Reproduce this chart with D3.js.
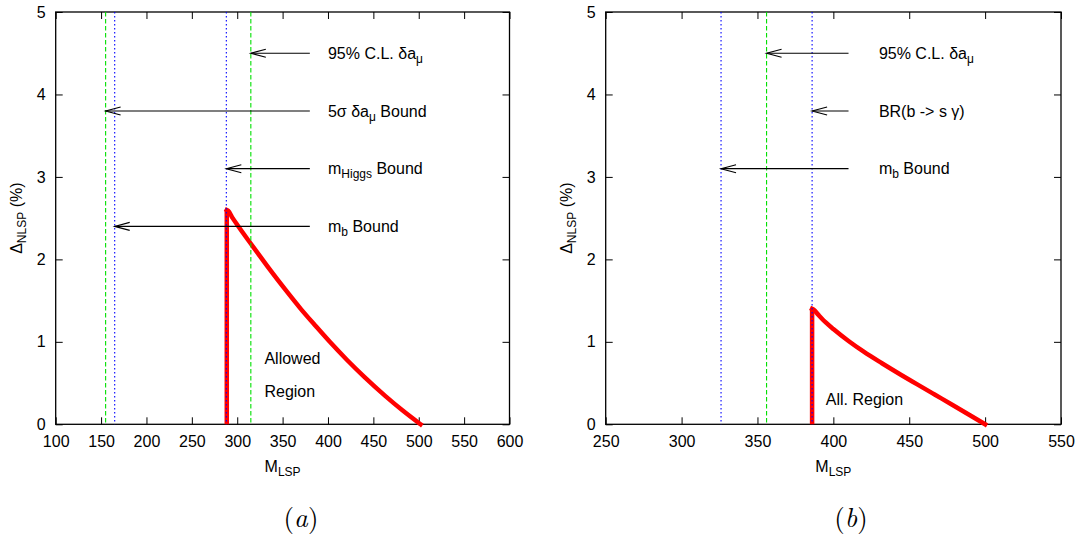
<!DOCTYPE html>
<html><head><meta charset="utf-8">
<script src="https://cdn.jsdelivr.net/npm/d3@7"></script>
<style>
html,body{margin:0;padding:0;background:#fff;}
svg{display:block;font-family:"Liberation Sans",Arial,Helvetica,sans-serif;}
</style></head>
<body>
<svg id="chart" width="1079" height="537"></svg>
<script>
// ---------- data ----------
const yTicks = [0, 1, 2, 3, 4, 5];
const xTicksA = [100, 150, 200, 250, 300, 350, 400, 450, 500, 550, 600];
const xTicksB = [250, 300, 350, 400, 450, 500, 550];

// panel (a) red curve (vertical edge at the first x, then the falling branch)
const curveAx = [288.5, 290, 295, 300, 310, 321, 335, 355, 370, 387, 402, 421, 440, 463, 482, 502];
const curveAy = [2.6, 2.59, 2.50, 2.42, 2.265, 2.10, 1.89, 1.605, 1.40, 1.185, 1.00, 0.78, 0.575, 0.345, 0.17, 0];
// panel (b) red curve
const curveBx = [386, 387, 390, 395, 400, 410, 420, 432, 445, 455, 467, 478, 490, 500];
const curveBy = [1.40, 1.39, 1.33, 1.235, 1.155, 1.01, 0.88, 0.74, 0.595, 0.487, 0.358, 0.24, 0.11, 0];

// vertical bounds
const greenA = [155, 315];
const blueA = [165, 288];
const greenB = [356];
const blueB = [326, 386];

// annotations (arrow y, arrow tip x, label parts [text, isSubscript])
const annAy = [4.5, 3.8, 3.1, 2.4];
const annAtip = [315, 155, 288, 165];
const annAtail = 380, annAtextX = 400;
const annAtext = [
  [["95% C.L. δa", 0], ["μ", 1]],
  [["5σ δa", 0], ["μ", 1], [" Bound", 0]],
  [["m", 0], ["Higgs", 1], [" Bound", 0]],
  [["m", 0], ["b", 1], [" Bound", 0]]
];
const annBy = [4.5, 3.8, 3.1];
const annBtip = [356, 386, 326];
const annBtail = 410, annBtextX = 430;
const annBtext = [
  [["95% C.L. δa", 0], ["μ", 1]],
  [["BR(b -> s γ)", 0]],
  [["m", 0], ["b", 1], [" Bound", 0]]
];
const regionA = [["Allowed", 330, 0.8], ["Region", 330, 0.4]];
const regionB = [["All. Region", 395, 0.3]];
const captions = ["a", "b"];

// ---------- drawing ----------
const svg = d3.select("#chart");
const plotTop = 12, plotBottom = 424.3;
const y = d3.scaleLinear().domain([0, 5]).range([plotBottom, plotTop]);

function addParts(textSel, parts, size, subSize, shift) {
  let down = false;
  parts.forEach(([t, sub]) => {
    const ts = textSel.append("tspan").text(t);
    if (sub && !down) { ts.attr("dy", shift).attr("font-size", subSize); down = true; }
    else if (sub) { ts.attr("font-size", subSize); }
    else if (!sub && down) { ts.attr("dy", -shift).attr("font-size", size); down = false; }
    else { ts.attr("font-size", size); }
  });
}

function panel(cfg) {
  const x = d3.scaleLinear().domain(cfg.domain).range(cfg.range);
  const g = svg.append("g");
  const fmt = d3.format("d");

  const gb = g.append("g").attr("transform", `translate(0,${plotBottom})`)
    .call(d3.axisBottom(x).tickValues(cfg.xticks).tickFormat(fmt).tickSizeInner(-7).tickSizeOuter(0).tickPadding(11.3));
  const gt = g.append("g").attr("transform", `translate(0,${plotTop})`)
    .call(d3.axisTop(x).tickValues(cfg.xticks).tickFormat("").tickSizeInner(-7).tickSizeOuter(0));
  const gl = g.append("g").attr("transform", `translate(${cfg.range[0]},0)`)
    .call(d3.axisLeft(y).tickValues(yTicks).tickFormat(fmt).tickSizeInner(-7).tickSizeOuter(0).tickPadding(10));
  const gr = g.append("g").attr("transform", `translate(${cfg.range[1]},0)`)
    .call(d3.axisRight(y).tickValues(yTicks).tickFormat("").tickSizeInner(-7).tickSizeOuter(0));
  [gb, gt, gl, gr].forEach(a => {
    a.select(".domain").remove();
    a.selectAll(".tick line").attr("stroke", "#000").attr("stroke-width", 1);
    a.selectAll("text").attr("font-size", 16).attr("fill", "#000")
      .attr("font-family", "'Liberation Sans', Arial, sans-serif");
  });
  g.append("rect").attr("x", cfg.range[0]).attr("y", plotTop)
    .attr("width", cfg.range[1] - cfg.range[0]).attr("height", plotBottom - plotTop)
    .attr("fill", "none").attr("stroke", "#000").attr("stroke-width", 1.3);

  // red region boundary: vertical edge + smooth falling branch
  const pts = cfg.cx.map((v, i) => [v, cfg.cy[i]]);
  g.append("path").datum([[cfg.cx[0], 0], pts[0]])
    .attr("d", d3.line().x(d => x(d[0])).y(d => y(d[1])))
    .attr("fill", "none").attr("stroke", "#ff0000").attr("stroke-width", 4.5);
  g.append("path").datum(pts)
    .attr("d", d3.line().x(d => x(d[0])).y(d => y(d[1])).curve(d3.curveMonotoneX))
    .attr("fill", "none").attr("stroke", "#ff0000").attr("stroke-width", 4.5)
    .attr("stroke-linecap", "square");

  g.selectAll(null).data(cfg.green).join("line")
    .attr("x1", d => x(d)).attr("x2", d => x(d)).attr("y1", y(5)).attr("y2", y(0))
    .attr("stroke", "#00e000").attr("stroke-width", 1.1).attr("stroke-dasharray", "4.5,2.5");
  g.selectAll(null).data(cfg.blue).join("line")
    .attr("x1", d => x(d)).attr("x2", d => x(d)).attr("y1", y(5)).attr("y2", y(0))
    .attr("stroke", "#0000ff").attr("stroke-width", 1.1).attr("stroke-dasharray", "1.5,2.5");

  cfg.ay.forEach((v, i) => {
    const yy = y(v), tx = x(cfg.atip[i]), tl = x(cfg.atail);
    g.append("line").attr("x1", tl).attr("x2", tx).attr("y1", yy).attr("y2", yy)
      .attr("stroke", "#000").attr("stroke-width", 1.1);
    g.append("path").attr("d", `M${tx + 15},${yy - 4}L${tx},${yy}L${tx + 15},${yy + 4}`)
      .attr("fill", "none").attr("stroke", "#000").attr("stroke-width", 1.1);
    const t = g.append("text").attr("x", x(cfg.atextX)).attr("y", yy).attr("dy", "0.35em")
      .attr("font-size", 16).attr("fill", "#000");
    addParts(t, cfg.atext[i], 16, 12, 4);
  });

  cfg.region.forEach(([t, xv, yv]) => {
    g.append("text").attr("x", x(xv)).attr("y", y(yv)).attr("dy", "0.35em")
      .attr("font-size", 16).attr("fill", "#000").text(t);
  });

  const cx = (cfg.range[0] + cfg.range[1]) / 2;
  const xt = g.append("text").attr("x", cx).attr("y", 472).attr("text-anchor", "middle").attr("fill", "#000");
  addParts(xt, [["M", 0], ["LSP", 1]], 16, 12, 4);
  const yt = g.append("text").attr("transform", `translate(${cfg.range[0] - 34},${(plotTop + plotBottom) / 2}) rotate(-90)`)
    .attr("text-anchor", "middle").attr("fill", "#000");
  addParts(yt, [["Δ", 0], ["NLSP", 1], [" (%)", 0]], 16, 12, 4);

  const cap = g.append("text").attr("x", cfg.capX).attr("y", 527).attr("text-anchor", "middle")
    .attr("font-family", "'Latin Modern Roman','Liberation Serif','DejaVu Serif',serif")
    .attr("font-size", 27).attr("fill", "#000");
  cap.append("tspan").text("(");
  cap.append("tspan").attr("font-style", "italic").text(cfg.cap);
  cap.append("tspan").text(")");
}

panel({domain: [100, 600], range: [55.7, 509.5], xticks: xTicksA,
  cx: curveAx, cy: curveAy, green: greenA, blue: blueA,
  ay: annAy, atip: annAtip, atail: annAtail, atextX: annAtextX, atext: annAtext,
  region: regionA, capX: 301, cap: captions[0]});
panel({domain: [250, 550], range: [605.7, 1061], xticks: xTicksB,
  cx: curveBx, cy: curveBy, green: greenB, blue: blueB,
  ay: annBy, atip: annBtip, atail: annBtail, atextX: annBtextX, atext: annBtext,
  region: regionB, capX: 851, cap: captions[1]});
</script>
</body></html>
